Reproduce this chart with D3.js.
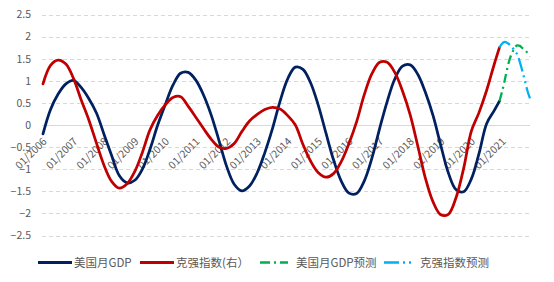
<!DOCTYPE html>
<html><head><meta charset="utf-8">
<script src="https://cdn.jsdelivr.net/npm/d3@7"></script>
<style>
html,body{margin:0;padding:0;background:#fff;}
svg{display:block;font-family:"Noto Sans CJK SC","Noto Sans",sans-serif;}
</style></head>
<body>
<svg id="chart" width="554" height="282"></svg>
<script>
// ---- data ----
const quarterDates = [
 "2006-01","2006-04","2006-07","2006-10",
 "2007-01","2007-04","2007-07","2007-10",
 "2008-01","2008-04","2008-07","2008-10",
 "2009-01","2009-04","2009-07","2009-10",
 "2010-01","2010-04","2010-07","2010-10",
 "2011-01","2011-04","2011-07","2011-10",
 "2012-01","2012-04","2012-07","2012-10",
 "2013-01","2013-04","2013-07","2013-10",
 "2014-01","2014-04","2014-07","2014-10",
 "2015-01","2015-04","2015-07","2015-10",
 "2016-01","2016-04","2016-07","2016-10",
 "2017-01","2017-04","2017-07","2017-10",
 "2018-01","2018-04","2018-07","2018-10",
 "2019-01","2019-04","2019-07","2019-10",
 "2020-01","2020-04","2020-07","2020-10",
 "2020-12"];
const usGDP = [
 -0.20, 0.35, 0.70, 0.93,
  1.01, 0.85, 0.60, 0.27,
 -0.22,-0.70,-1.15,-1.31,
 -1.25,-1.00,-0.55, 0.00,
  0.47, 0.90, 1.17, 1.19,
  1.01, 0.68, 0.23,-0.34,
 -0.93,-1.34,-1.49,-1.38,
 -1.08,-0.63,-0.09, 0.54,
  1.05, 1.31, 1.26, 0.95,
  0.44,-0.18,-0.79,-1.27,
 -1.54,-1.55,-1.27,-0.75,
 -0.08, 0.53, 1.04, 1.33,
  1.36, 1.15, 0.74, 0.21,
 -0.46,-1.08,-1.46,-1.51,
 -1.22,-0.65, 0.03, 0.33,
  0.54];
const keqiang = [
  0.93, 1.35, 1.47, 1.38,
  1.05, 0.57, 0.12,-0.41,
 -0.92,-1.28,-1.43,-1.33,
 -1.05,-0.62,-0.11, 0.22,
  0.46, 0.62, 0.64, 0.42,
  0.17,-0.08,-0.32,-0.50,
 -0.53,-0.42,-0.15, 0.09,
  0.24, 0.35, 0.40, 0.36,
  0.21, 0.00,-0.44,-0.82,
 -1.08,-1.18,-1.10,-0.83,
 -0.42, 0.07, 0.68, 1.16,
  1.42, 1.42, 1.19, 0.77,
  0.23,-0.47,-1.20,-1.74,
 -2.03,-2.02,-1.65,-0.98,
 -0.14, 0.28, 0.78, 1.38,
  1.75];
const forecastDates = ["2020-12","2021-01","2021-02","2021-03","2021-04","2021-05","2021-06",
 "2021-07","2021-08","2021-09","2021-10","2021-11","2021-12"];
const gdpForecast = [0.54, 0.75, 1.00, 1.25, 1.48, 1.63, 1.74, 1.80, 1.79, 1.74, 1.70, 1.63, 1.55];
const keqiangForecast = [1.75, 1.84, 1.88, 1.86, 1.82, 1.76, 1.68, 1.60, 1.43, 1.22, 1.00, 0.77, 0.60];
const yTicks = [2.5, 2, 1.5, 1, 0.5, 0, -0.5, -1, -1.5, -2, -2.5];
const xTickLabels = ["01/2006","01/2007","01/2008","01/2009","01/2010","01/2011","01/2012","01/2013",
 "01/2014","01/2015","01/2016","01/2017","01/2018","01/2019","01/2020","01/2021"];
const seriesNames = ["美国月GDP","克强指数(右）","美国月GDP预测","克强指数预测"];

// ---- chart ----
const parse = d3.timeParse("%Y-%m");
const parseTick = d3.timeParse("%m/%Y");
const svg = d3.select("#chart");
const x = d3.scaleTime().domain([parse("2006-01"), parse("2021-12")]).range([43, 530]);
const y = d3.scaleLinear().domain([-2.5, 2.5]).range([235.5, 14.5]);
const textColor = "#595959";

// gridlines
svg.append("g").selectAll("line").data(yTicks).join("line")
  .attr("x1", 42).attr("x2", 530)
  .attr("y1", d => Math.round(y(d)) + 0.5).attr("y2", d => Math.round(y(d)) + 0.5)
  .attr("stroke", "#d9d9d9").attr("stroke-width", 1)
  .attr("stroke-dasharray", d => d === 0 ? null : "4,3");

// y axis labels
const yAxis = d3.axisLeft(y).tickValues(yTicks).tickSize(0).tickPadding(0).tickFormat(d3.format("~g"));
const yg = svg.append("g").attr("transform", "translate(31,0)").call(yAxis);
yg.select(".domain").remove();
yg.selectAll("text").attr("fill", textColor).style("font-size", "10.5px")
  .style("font-family", "'Noto Sans CJK SC','Noto Sans',sans-serif");

// x axis labels
const xAxis = d3.axisBottom(x).tickValues(xTickLabels.map(parseTick)).tickSize(0).tickPadding(0)
  .tickFormat((d, i) => xTickLabels[i]);
const xg = svg.append("g").attr("transform", `translate(0,${y(0)})`).call(xAxis);
xg.select(".domain").remove();
xg.selectAll("text").attr("fill", textColor).style("font-size", "10.5px")
  .style("font-family", "'Noto Sans CJK SC','Noto Sans',sans-serif")
  .attr("text-anchor", "end").attr("dy", null).attr("y", 0)
  .attr("transform", "translate(4,17) rotate(-45)");

const line = d3.line().x(d => x(d[0])).y(d => y(d[1])).curve(d3.curveCatmullRom.alpha(0.5));
const mk = (dates, vals) => dates.map((d, i) => [parse(d), vals[i]]);

svg.append("path").datum(mk(quarterDates, usGDP)).attr("d", line)
  .attr("fill", "none").attr("stroke", "#002060").attr("stroke-width", 2.75).attr("stroke-linecap", "round");
svg.append("path").datum(mk(quarterDates, keqiang)).attr("d", line)
  .attr("fill", "none").attr("stroke", "#c00000").attr("stroke-width", 2.75).attr("stroke-linecap", "round");
svg.append("path").datum(mk(forecastDates, gdpForecast)).attr("d", line)
  .attr("fill", "none").attr("stroke", "#00b050").attr("stroke-width", 2.25)
  .attr("stroke-dasharray", "9,4,2,4");
svg.append("path").datum(mk(forecastDates, keqiangForecast)).attr("d", line)
  .attr("fill", "none").attr("stroke", "#00b0f0").attr("stroke-width", 2.25)
  .attr("stroke-dasharray", "14,4,2,4,2,4");

// legend
const legendItems = [
  {name: seriesNames[0], color: "#002060", x1: 38, x2: 72, tx: 74, dash: null, w: 3},
  {name: seriesNames[1], color: "#c00000", x1: 140, x2: 174, tx: 176, dash: null, w: 3},
  {name: seriesNames[2], color: "#00b050", x1: 260, x2: 288, tx: 296, dash: "10,4,2,4", w: 2.5},
  {name: seriesNames[3], color: "#00b0f0", x1: 384, x2: 414, tx: 420, dash: "15,4,2,4,2,4", w: 2.5}
];
const lg = svg.append("g");
legendItems.forEach(it => {
  lg.append("line").attr("x1", it.x1).attr("x2", it.x2).attr("y1", 262.5).attr("y2", 262.5)
    .attr("stroke", it.color).attr("stroke-width", it.w).attr("stroke-dasharray", it.dash);
  lg.append("text").attr("x", it.tx).attr("y", 262.5).attr("dy", "0.36em")
    .attr("fill", textColor).style("font-size", "11.5px").text(it.name);
});
</script>
</body></html>
